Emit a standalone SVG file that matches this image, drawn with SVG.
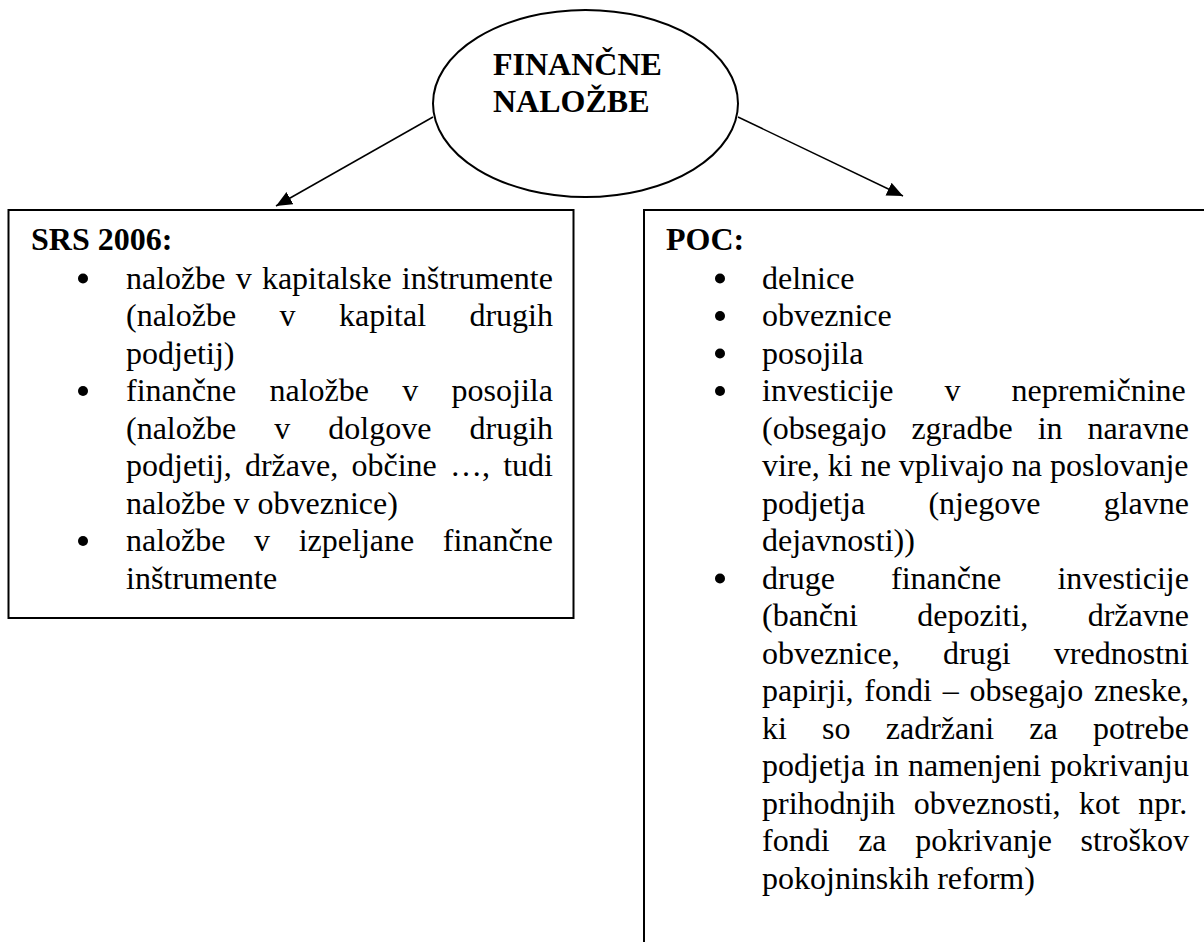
<svg xmlns="http://www.w3.org/2000/svg" width="1204" height="942" viewBox="0 0 1204 942">
  <style>
    text { font-family: "Liberation Serif", "Times New Roman", serif; font-size: 32px; fill: #000; }
    .b { font-weight: bold; }
    .shape { fill: #fff; stroke: #000; stroke-width: 2; }
    .link { fill: none; stroke: #000; stroke-width: 1.5; marker-end: url(#head); }
    .dot { fill: #000; }
  </style>
  <defs>
    <marker id="head" markerUnits="userSpaceOnUse" markerWidth="18" markerHeight="16" refX="16" refY="7" orient="auto">
      <path d="M0,0 L16,7 L0,14 z" fill="#000"/>
    </marker>
  </defs>

  <rect width="1204" height="942" fill="#fff"/>

  <!-- central topic -->
  <g id="node-root">
    <ellipse class="shape" cx="585.5" cy="103.5" rx="152.5" ry="93.5" stroke-width="1.5"/>
    <text class="b" x="493" y="75">FINANČNE</text>
    <text class="b" x="493" y="112">NALOŽBE</text>
  </g>

  <!-- left branch: SRS 2006 -->
  <g id="node-srs">
    <rect class="shape" x="8.5" y="210" width="565" height="408"/>
    <text class="b" x="31" y="250">SRS 2006:</text>
    <circle class="dot" cx="83" cy="278.5" r="5"/>
    <text x="126" y="288.5" word-spacing="2.2">naložbe v kapitalske inštrumente</text>
    <text x="126" y="326" word-spacing="35.4">(naložbe v kapital drugih</text>
    <text x="126" y="363.5">podjetij)</text>
    <circle class="dot" cx="83" cy="391" r="5"/>
    <text x="126" y="401" word-spacing="25.3">finančne naložbe v posojila</text>
    <text x="126" y="438.5" word-spacing="30.1">(naložbe v dolgove drugih</text>
    <text x="126" y="476" word-spacing="5.2">podjetij, države, občine …, tudi</text>
    <text x="126" y="513.5">naložbe v obveznice)</text>
    <circle class="dot" cx="83" cy="541" r="5"/>
    <text x="126" y="551" word-spacing="20.6">naložbe v izpeljane finančne</text>
    <text x="126" y="588.5">inštrumente</text>
  </g>

  <!-- right branch: POC -->
  <g id="node-poc">
    <rect class="shape" x="644" y="210" width="580" height="760"/>
    <text class="b" x="666" y="250">POC:</text>
    <circle class="dot" cx="720" cy="278.5" r="5"/>
    <text x="762" y="288.5">delnice</text>
    <circle class="dot" cx="720" cy="316" r="5"/>
    <text x="762" y="326">obveznice</text>
    <circle class="dot" cx="720" cy="353.5" r="5"/>
    <text x="762" y="363.5">posojila</text>
    <circle class="dot" cx="720" cy="391" r="5"/>
    <text x="762" y="401" word-spacing="43.05">investicije v nepremičnine</text>
    <text x="762" y="438.5" word-spacing="17.0">(obsegajo zgradbe in naravne</text>
    <text x="762" y="476">vire, ki ne vplivajo na poslovanje</text>
    <text x="762" y="513.5" word-spacing="55.3">podjetja (njegove glavne</text>
    <text x="762" y="551">dejavnosti))</text>
    <circle class="dot" cx="720" cy="578.5" r="5"/>
    <text x="762" y="588.5" word-spacing="48.2">druge finančne investicije</text>
    <text x="762" y="626" word-spacing="51.3">(bančni depoziti, državne</text>
    <text x="762" y="663.5" word-spacing="35.3">obveznice, drugi vrednostni</text>
    <text x="762" y="701" word-spacing="2.8">papirji, fondi – obsegajo zneske,</text>
    <text x="762" y="738.5" word-spacing="27.2">ki so zadržani za potrebe</text>
    <text x="762" y="776" word-spacing="1">podjetja in namenjeni pokrivanju</text>
    <text x="762" y="813.5" word-spacing="10.5">prihodnjih obveznosti, kot npr.</text>
    <text x="762" y="851" word-spacing="20.6">fondi za pokrivanje stroškov</text>
    <text x="762" y="888.5">pokojninskih reform)</text>
  </g>

  <!-- arrows from the topic to both branches -->
  <g id="connectors">
    <line class="link" x1="433" y1="117" x2="276" y2="206"/>
    <line class="link" x1="738" y1="117" x2="903" y2="196"/>
  </g>
</svg>
